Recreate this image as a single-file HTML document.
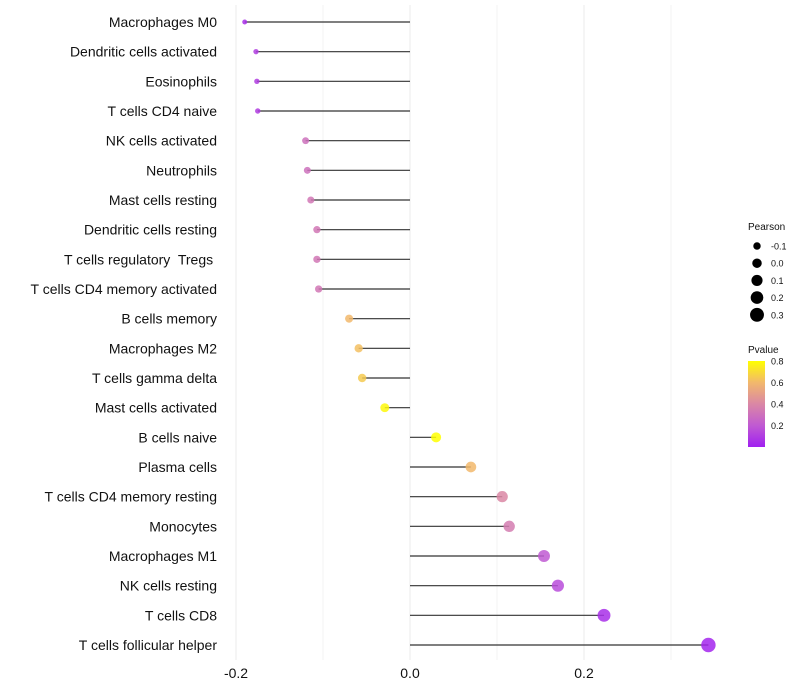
<!DOCTYPE html>
<html><head><meta charset="utf-8"><style>
body{margin:0;background:#fff;font-family:"Liberation Sans",sans-serif}
svg{display:block}
text{white-space:pre}
</style></head><body>
<svg id="chart" width="800" height="700"></svg>
<script>
const categories=["Macrophages M0","Dendritic cells activated","Eosinophils","T cells CD4 naive","NK cells activated","Neutrophils","Mast cells resting","Dendritic cells resting","T cells regulatory  Tregs ","T cells CD4 memory activated","B cells memory","Macrophages M2","T cells gamma delta","Mast cells activated","B cells naive","Plasma cells","T cells CD4 memory resting","Monocytes","Macrophages M1","NK cells resting","T cells CD8","T cells follicular helper"];
const pearson=[-0.190,-0.177,-0.176,-0.175,-0.120,-0.118,-0.114,-0.107,-0.107,-0.105,-0.070,-0.059,-0.055,-0.029,0.030,0.070,0.106,0.114,0.154,0.170,0.223,0.343];
const pvalue=[0.05,0.1,0.1,0.1,0.3,0.3,0.33,0.33,0.33,0.33,0.6,0.62,0.65,0.78,0.8,0.6,0.4,0.35,0.2,0.15,0.05,0.02];
const xTicks=[-0.2,0,0.2];
const xTickLabels=["-0.2","0.0","0.2"];
const sizeLegend=[-0.1,0,0.1,0.2,0.3];
const colorLegend=[0.2,0.4,0.6,0.8];
const NS="http://www.w3.org/2000/svg";
const svg=document.getElementById('chart');
const X=v=>410+v*870;
const Y=i=>22+i*(645-22)/(categories.length-1);
const R=v=>Math.sqrt(Math.max(0.02,(v+0.26)/0.6))*7.2;
const stops=[[0,[160,32,240]],[0.2,[192,90,210]],[0.4,[218,135,165]],[0.6,[242,184,108]],[0.8,[255,255,0]]];
function col(p){p=Math.max(0,Math.min(0.8,p));for(let k=1;k<stops.length;k++){if(p<=stops[k][0]){const a=stops[k-1],b=stops[k],t=(p-a[0])/(b[0]-a[0]);return 'rgb('+a[1].map((c,j)=>Math.round(c+(b[1][j]-c)*t)).join(',')+')';}}return 'rgb(255,255,0)';}
function el(t,a,txt){const e=document.createElementNS(NS,t);for(const k in a)e.setAttribute(k,a[k]);if(txt!==undefined)e.textContent=txt;svg.appendChild(e);return e;}
[-0.2,-0.1,0,0.1,0.2,0.3].forEach((v,i)=>{const g=el('line',{x1:X(v),x2:X(v),y1:5,y2:660,stroke:i%2===0?'#ebebeb':'#f3f3f3','stroke-width':1});

});
xTicks.forEach((v,i)=>{const t=el('text',{x:X(v),y:678,'text-anchor':'middle','font-size':14,fill:'#111'},xTickLabels[i]);

});
categories.forEach((c,i)=>{
const l=el('text',{x:217,y:Y(i)+5,'text-anchor':'end','font-size':14,fill:'#111'},c);


const s=el('line',{x1:X(0),x2:X(pearson[i]),y1:Y(i),y2:Y(i),stroke:'#333','stroke-width':1.2});


const d=el('circle',{cx:X(pearson[i]),cy:Y(i),r:R(pearson[i]),fill:col(pvalue[i]),'fill-opacity':0.85});


});
const lt=el('text',{x:748,y:230,'font-size':10,fill:'#111'},'Pearson');


sizeLegend.forEach((v,i)=>{const y=246+i*17.2;
const c=el('circle',{cx:757,cy:y,r:R(v),fill:'#000'});


const t=el('text',{x:771,y:y+3.5,'font-size':9,fill:'#111'},v.toFixed(1));

});
const ct=el('text',{x:748,y:353,'font-size':10,fill:'#111'},'Pvalue');


const defs=el('defs',{});
const grad=document.createElementNS(NS,'linearGradient');grad.setAttribute('id','pg');grad.setAttribute('x1','0');grad.setAttribute('y1','1');grad.setAttribute('x2','0');grad.setAttribute('y2','0');
stops.forEach(s=>{const st=document.createElementNS(NS,'stop');st.setAttribute('offset',s[0]/0.8);st.setAttribute('stop-color','rgb('+s[1].join(',')+')');grad.appendChild(st);});
defs.appendChild(grad);
const PY=p=>447-p/0.8*86;
const cb=el('rect',{x:748,y:361,width:17,height:86,fill:'url(#pg)'});


colorLegend.forEach(v=>{const t=el('text',{x:771,y:PY(v)+3.5,'font-size':9,fill:'#111'},v.toFixed(1));

});
</script>
</body></html>
